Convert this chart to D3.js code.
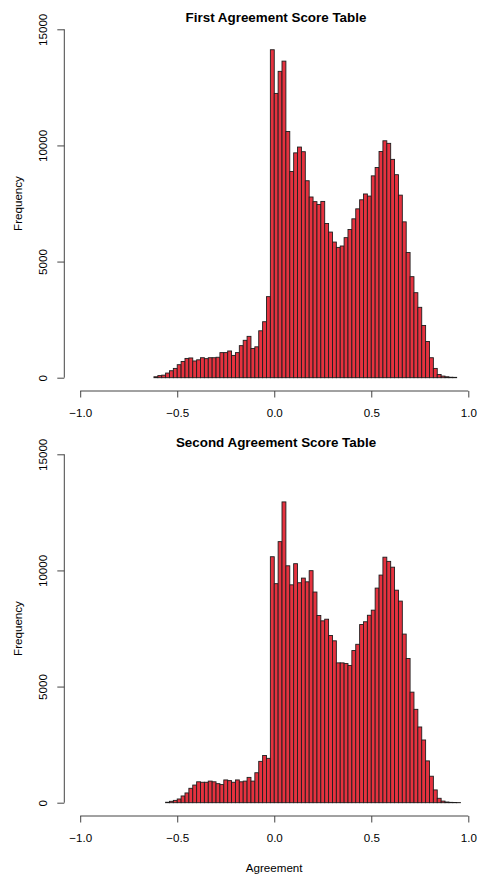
<!DOCTYPE html>
<html>
<head>
<meta charset="utf-8">
<script src="https://cdn.jsdelivr.net/npm/d3@7/dist/d3.min.js"></script>
<style>
  html, body { margin: 0; padding: 0; background: #fff; }
  svg { display: block; }
  text { font-family: "Liberation Sans", Arial, Helvetica, sans-serif; fill: #000; }
</style>
</head>
<body>
<svg id="chart" width="484" height="886"></svg>
<script>
// ---- data ----
const binWidth = 0.02;

const titles = ["First Agreement Score Table", "Second Agreement Score Table"];
const xLabel = "Agreement";
const yLabel = "Frequency";

const xTicks = [-1.0, -0.5, 0.0, 0.5, 1.0];
const xTickLabels = ["\u22121.0", "\u22120.5", "0.0", "0.5", "1.0"];
const yTicks = [0, 5000, 10000, 15000];
const yTickLabels = ["0", "5000", "10000", "15000"];

// First table: bins start at -0.62, width 0.02
const start1 = -0.62;
const counts1 = [
  40, 90, 110, 200, 300, 400, 560, 700, 830, 850,
  720, 770, 860, 820, 860, 860, 880, 1080, 1080, 1150,
  960, 1080, 1380, 1610, 1780, 1260, 1330, 2020, 2410, 3490,
  14120, 12240, 13190, 13630, 10600, 8880, 9680, 9930, 9730, 8480,
  7780, 7580, 7460, 7590, 6640, 6270, 5840, 5610, 5670, 6030,
  6380, 6840, 7270, 7660, 7910, 7820, 8690, 9050, 9740, 10200,
  10090, 9400, 8740, 7860, 6710, 5390, 4350, 3660, 3030, 2250,
  1560, 860, 400, 140, 70, 40, 20, 15
];

// Second table: bins start at -0.56, width 0.02
const start2 = -0.56;
const counts2 = [
  20, 60, 100, 160, 290, 420, 620, 760, 900, 880,
  880, 930, 900, 820, 780, 980, 950, 880, 980, 900,
  930, 1090, 930, 1290, 1780, 2030, 1910, 10590, 9430, 11240,
  12950, 10200, 9380, 10290, 9470, 9670, 9510, 9990, 9070, 8060,
  7830, 7900, 7200, 6970, 6020, 6020, 5990, 5910, 6550, 6820,
  7670, 7790, 8070, 8290, 9240, 9800, 10570, 10390, 10140, 9150,
  8680, 7260, 6210, 4760, 4020, 3260, 2700, 1800, 1140, 550,
  190, 70, 30, 15, 10, 5
];

const panels = [
  { title: titles[0], start: start1, counts: counts1, showXLabel: false },
  { title: titles[1], start: start2, counts: counts2, showXLabel: true }
];

// ---- layout ----
const svg = d3.select("#chart");
const panelOffset = 425;
const x = d3.scaleLinear().domain([-1, 1]).range([80.2, 468.3]);
const y = d3.scaleLinear().domain([0, 15000]).range([377.7, 29.3]);
const axisColor = "#444";

panels.forEach((p, k) => {
  const g = svg.append("g").attr("transform", `translate(0,${k * panelOffset})`);

  const bins = p.counts.map((c, i) => ({
    x0: p.start + i * binWidth,
    x1: p.start + (i + 1) * binWidth,
    count: c
  }));

  g.selectAll("rect.bar").data(bins).enter().append("rect")
    .attr("class", "bar")
    .attr("x", d => x(d.x0))
    .attr("width", d => x(d.x1) - x(d.x0))
    .attr("y", d => y(d.count))
    .attr("height", d => y(0) - y(d.count))
    .attr("fill", "#e5323f")
    .attr("stroke", "#1e1e1e")
    .attr("stroke-width", 0.9);

  // x axis (R style: line from first to last tick, ticks downward)
  const xAxisY = 391;
  const xg = g.append("g").attr("transform", `translate(0,${xAxisY})`);
  const xAxis = d3.axisBottom(x)
    .tickValues(xTicks)
    .tickSize(6.5)
    .tickSizeOuter(0)
    .tickFormat((d, i) => xTickLabels[i]);
  xg.call(xAxis);
  xg.select(".domain").attr("stroke", axisColor).attr("d", `M${x(-1)},0H${x(1)}`);
  xg.selectAll(".tick line").attr("stroke", axisColor);
  xg.selectAll(".tick text")
    .attr("y", 26)
    .attr("dy", 0)
    .style("font-size", "11.6px")
    .style("font-family", "Liberation Sans, Arial, sans-serif")
    .attr("fill", "#000");

  // y axis
  const yAxisX = 64.3;
  const yg = g.append("g").attr("transform", `translate(${yAxisX},0)`);
  const yAxis = d3.axisLeft(y)
    .tickValues(yTicks)
    .tickSize(7)
    .tickSizeOuter(0)
    .tickFormat((d, i) => yTickLabels[i]);
  yg.call(yAxis);
  yg.select(".domain").attr("stroke", axisColor).attr("d", `M0,${y(0)}V${y(15000)}`);
  yg.selectAll(".tick line").attr("stroke", axisColor);
  yg.selectAll(".tick text")
    .attr("x", 0).attr("y", 0).attr("dy", 0)
    .attr("text-anchor", "middle")
    .attr("transform", "translate(-17.5,0) rotate(-90)")
    .style("font-size", "11.6px")
    .style("font-family", "Liberation Sans, Arial, sans-serif")
    .attr("fill", "#000");

  // title
  g.append("text")
    .attr("x", 276)
    .attr("y", 22)
    .attr("text-anchor", "middle")
    .style("font-size", "13.4px")
    .style("font-weight", "bold")
    .text(p.title);

  // y label
  g.append("text")
    .attr("transform", `translate(22,${(y(0) + y(15000)) / 2}) rotate(-90)`)
    .attr("text-anchor", "middle")
    .style("font-size", "11.6px")
    .text(yLabel);

  if (p.showXLabel) {
    g.append("text")
      .attr("x", 274.2)
      .attr("y", 447)
      .attr("text-anchor", "middle")
      .style("font-size", "11.6px")
      .text(xLabel);
  }
});
</script>
</body>
</html>
